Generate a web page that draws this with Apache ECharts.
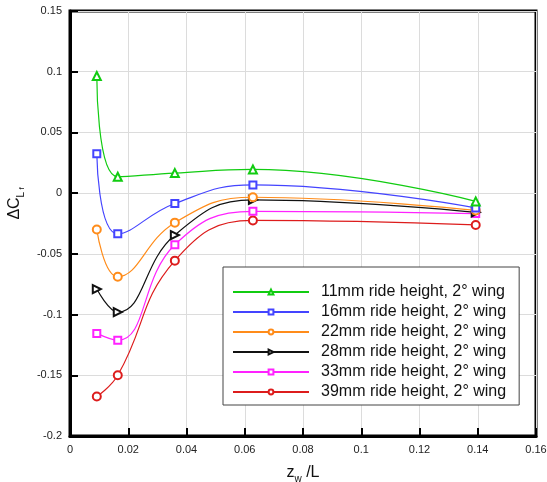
<!DOCTYPE html>
<html>
<head>
<meta charset="utf-8">
<script src="https://cdn.jsdelivr.net/npm/echarts@6/dist/echarts.min.js"></script>
<style>
  html, body { margin: 0; padding: 0; background: #fff; }
  #chart { width: 547px; height: 482px; }
</style>
</head>
<body>
<div id="chart"></div>
<script>
// Wing height positions z_w/L shared by every ride height
const zwL = [0.0092, 0.0164, 0.036, 0.0628, 0.1393];

// ΔC_Lf per ride height
const rh11 = [0.0965, 0.0135, 0.0165, 0.0195, -0.0068];
const rh16 = [0.0325, -0.0335, -0.0085, 0.0068, -0.0122];
const rh22 = [-0.0300, -0.0688, -0.0243, -0.0034, -0.0142];
const rh28 = [-0.0790, -0.0980, -0.0345, -0.0056, -0.0158];
const rh33 = [-0.1155, -0.1212, -0.0425, -0.0150, -0.0168];
const rh39 = [-0.1675, -0.1500, -0.0556, -0.0225, -0.0262];

const seriesNames = [
  '11mm ride height, 2° wing',
  '16mm ride height, 2° wing',
  '22mm ride height, 2° wing',
  '28mm ride height, 2° wing',
  '33mm ride height, 2° wing',
  '39mm ride height, 2° wing'
];
const seriesValues = [rh11, rh16, rh22, rh28, rh33, rh39];
const seriesColors = ['#11cc11', '#4444ff', '#ff8c1a', '#111111', '#ff22ff', '#dd1c1c'];
const seriesSymbols = ['emptyTriangle', 'emptyRect', 'emptyCircle', 'emptyTriangle', 'emptyRect', 'emptyCircle'];
const seriesSymbolRotate = [0, 0, 0, -90, 0, 0];
const seriesSymbolSize = [8, 7, 8, 8, 7, 8];

const xTicks = { min: 0, max: 0.16, interval: 0.02 };
const yTicks = { min: -0.2, max: 0.15, interval: 0.05 };

const FONT = 'Liberation Sans, Arial, sans-serif';

const chart = echarts.init(document.getElementById('chart'), null, { renderer: 'canvas' });

const series = seriesNames.map((name, i) => ({
  name: name,
  type: 'line',
  smooth: 0.45,
  data: zwL.map((x, k) => [x, seriesValues[i][k]]),
  symbol: seriesSymbols[i],
  symbolSize: seriesSymbolSize[i],
  symbolRotate: seriesSymbolRotate[i],
  lineStyle: { color: seriesColors[i], width: 1.2 },
  itemStyle: { color: seriesColors[i], borderColor: seriesColors[i], borderWidth: 1 },
  emphasis: { disabled: true },
  z: 3 + (5 - i)
}));

const labelFont = { fontFamily: FONT, fontSize: 11, color: '#222' };

chart.setOption({
  animation: false,
  backgroundColor: '#fff',
  grid: {
    left: 70, right: 11, top: 11, bottom: 46,
    outerBoundsMode: 'none',
    containLabel: false,
    show: true,
    borderColor: '#000',
    borderWidth: 3,
    backgroundColor: 'transparent'
  },
  legend: {
    orient: 'vertical',
    left: 223,
    top: 267,
    backgroundColor: '#fff',
    borderColor: '#444',
    borderWidth: 1,
    borderRadius: 0,
    padding: [17, 13, 5, 9],
    itemWidth: 76,
    itemHeight: 6,
    itemGap: 4,
    textStyle: { fontFamily: FONT, fontSize: 16, lineHeight: 14, color: '#111', padding: [0, 0, 0, 7] },
    data: seriesNames
  },
  xAxis: {
    type: 'value',
    min: xTicks.min, max: xTicks.max, interval: xTicks.interval,
    axisLine: { show: true, onZero: false, lineStyle: { color: '#000', width: 3 } },
    axisTick: { show: true, inside: true, length: 8, lineStyle: { color: '#000', width: 2 } },
    axisLabel: Object.assign({ margin: 8 }, labelFont),
    splitLine: { show: true, lineStyle: { color: '#dcdcdc', width: 1 } },
    name: '{m|z}{s|w}{m| /L}',
    nameLocation: 'middle',
    nameGap: 26,
    nameTextStyle: {
      rich: {
        m: { fontFamily: FONT, fontSize: 16, color: '#111', lineHeight: 22 },
        s: { fontFamily: FONT, fontSize: 10, color: '#111', lineHeight: 13, verticalAlign: 'bottom' }
      }
    }
  },
  yAxis: {
    type: 'value',
    min: yTicks.min, max: yTicks.max, interval: yTicks.interval,
    axisLine: { show: true, onZero: false, lineStyle: { color: '#000', width: 3 } },
    axisTick: { show: true, inside: true, length: 8, lineStyle: { color: '#000', width: 2 } },
    axisLabel: Object.assign({ margin: 8 }, labelFont),
    splitLine: { show: true, lineStyle: { color: '#dcdcdc', width: 1 } },
    name: '{m|ΔC}{s|L}{t| f}',
    nameLocation: 'middle',
    nameRotate: 90,
    nameGap: 30,
    nameTextStyle: {
      padding: [0, 0, 0, 40],
      rich: {
        m: { fontFamily: FONT, fontSize: 16, color: '#111', lineHeight: 22 },
        s: { fontFamily: FONT, fontSize: 10, color: '#111', lineHeight: 14, verticalAlign: 'bottom' },
        t: { fontFamily: FONT, fontSize: 8, color: '#111', lineHeight: 8, verticalAlign: 'bottom' }
      }
    }
  },
  series: series
});
</script>
</body>
</html>
